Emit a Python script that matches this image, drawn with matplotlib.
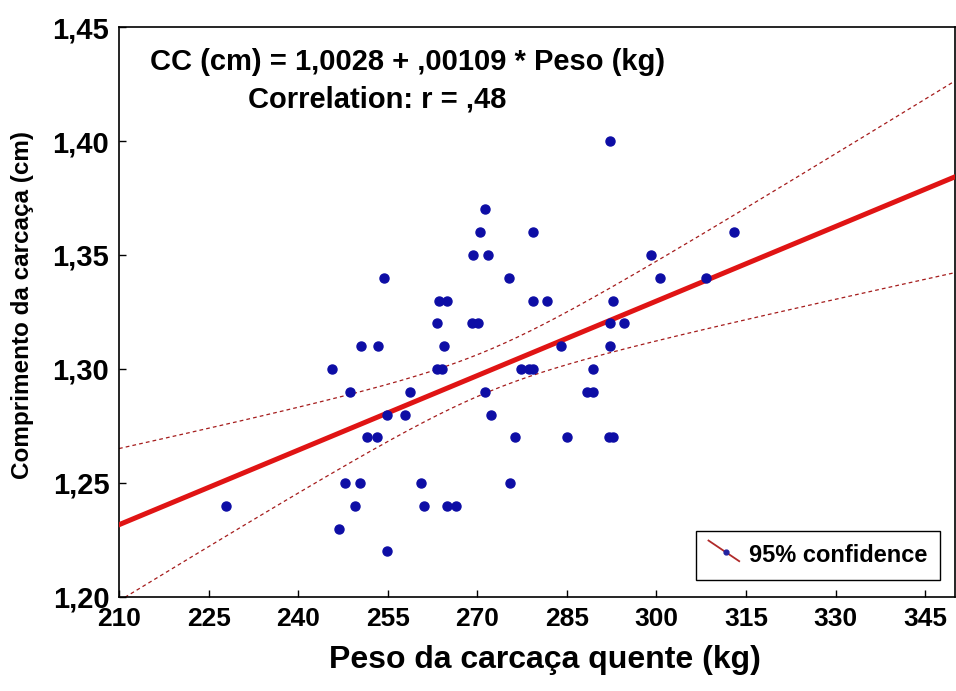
import numpy as np
import matplotlib
matplotlib.use("Agg")
import matplotlib.pyplot as plt
from matplotlib.lines import Line2D
from matplotlib.legend_handler import HandlerBase

# carcass weight (kg) and carcass length
peso = [228.0, 245.7, 246.9, 247.9, 248.7, 249.6, 250.4, 250.6, 251.6, 253.2,
        253.4, 254.4, 254.9, 254.9, 257.9, 258.7, 260.6, 261.1, 263.3, 263.3,
        263.6, 264.1, 264.4, 264.9, 264.9, 266.4, 269.1, 269.3, 270.1, 270.4,
        271.3, 271.3, 271.8, 272.3, 275.3, 275.4, 276.3, 277.4, 278.6, 279.4,
        279.3, 279.3, 281.6, 284.0, 285.0, 288.3, 289.3, 289.3, 292.3, 292.8,
        292.3, 292.3, 292.0, 292.8, 294.6, 299.1, 300.6, 308.3, 313.0]
comprimento = [1.24, 1.30, 1.23, 1.25, 1.29, 1.24, 1.25, 1.31, 1.27, 1.27,
               1.31, 1.34, 1.28, 1.22, 1.28, 1.29, 1.25, 1.24, 1.32, 1.30,
               1.33, 1.30, 1.31, 1.33, 1.24, 1.24, 1.32, 1.35, 1.32, 1.36,
               1.37, 1.29, 1.35, 1.28, 1.34, 1.25, 1.27, 1.30, 1.30, 1.30,
               1.36, 1.33, 1.33, 1.31, 1.27, 1.29, 1.29, 1.30, 1.40, 1.33,
               1.32, 1.31, 1.27, 1.27, 1.32, 1.35, 1.34, 1.34, 1.36]

# fitted equation as printed on the chart
b0, b1 = 1.0028, 0.00109
t_crit = 2.002  # t(0.975, n-2) for n = 59

x_ticks = [210, 225, 240, 255, 270, 285, 300, 315, 330, 345]
y_ticks = [1.20, 1.25, 1.30, 1.35, 1.40, 1.45]
y_tick_labels = ["1,20", "1,25", "1,30", "1,35", "1,40", "1,45"]


class DiagHandler(HandlerBase):
    # Statistica-style legend key: slanted line with a dot
    def create_artists(self, legend, orig_handle, xdescent, ydescent,
                       width, height, fontsize, trans):
        x0, x1 = -xdescent, -xdescent + width
        y0, y1 = -ydescent + 0.05 * height, -ydescent + 1.3 * height
        line = Line2D([x0, x1], [y1, y0], color="#b02a2a", lw=1.3, transform=trans)
        f = 0.57
        dot = Line2D([x0 + f * width], [y1 - f * (y1 - y0)], marker="o",
                     ms=3.5, color="#2323a0", lw=0, transform=trans)
        return [line, dot]


def main():
    plt.rcParams["font.family"] = ["Liberation Sans", "DejaVu Sans"]
    plt.rcParams["font.weight"] = "bold"

    x = np.array(peso)
    y = np.array(comprimento)
    n = len(x)
    resid = y - (b0 + b1 * x)
    s = np.sqrt((resid ** 2).sum() / (n - 2))
    sxx = ((x - x.mean()) ** 2).sum()

    xs = np.linspace(210, 350, 200)
    fit = b0 + b1 * xs
    half = t_crit * s * np.sqrt(1 / n + (xs - x.mean()) ** 2 / sxx)

    fig = plt.figure(figsize=(9.56, 6.91), dpi=100)
    ax = fig.add_axes([119 / 956, 94 / 691, 836 / 956, 570 / 691])

    ax.plot(xs, fit + half, color="#a51c1c", lw=0.9, dashes=(3, 2.5), zorder=2)
    ax.plot(xs, fit - half, color="#a51c1c", lw=0.9, dashes=(3, 2.5), zorder=2)
    ax.plot(xs, fit, color="#e01414", lw=3.6, zorder=3)
    ax.plot(x, y, "o", color="#0d0da5", ms=6.5, zorder=4)

    ax.set_xlim(210, 350)
    ax.set_ylim(1.20, 1.45)
    ax.set_xticks(x_ticks)
    ax.set_xticklabels([str(v) for v in x_ticks])
    ax.set_yticks(y_ticks)
    ax.set_yticklabels(y_tick_labels)
    ax.tick_params(direction="in", length=5, width=1, pad=7)
    ax.tick_params(axis="x", labelsize=19)
    ax.tick_params(axis="y", labelsize=21)
    for sp in ax.spines.values():
        sp.set_linewidth(1.2)

    ax.set_xlabel("Peso da carcaça quente (kg)", fontsize=23, fontweight="bold")
    ax.xaxis.set_label_coords(0.51, -0.084)
    ax.set_ylabel("Comprimento da carcaça (cm)", fontsize=17.5, fontweight="bold")
    ax.yaxis.set_label_coords(-0.102, 0.512)

    ax.text(150 / 956, 1 - 62 / 691, "CC (cm) = 1,0028 + ,00109 * Peso (kg)",
            transform=fig.transFigure, fontsize=21, fontweight="bold",
            ha="left", va="center")
    ax.text(248 / 956, 1 - 100 / 691, "Correlation: r = ,48",
            transform=fig.transFigure, fontsize=21, fontweight="bold",
            ha="left", va="center")

    leg = ax.legend([Line2D([], [])], ["95% confidence"], handler_map={Line2D: DiagHandler()},
                    loc="lower right", bbox_to_anchor=(1 - 15 / 836, 17 / 570),
                    borderaxespad=0, fancybox=False, framealpha=1, edgecolor="black",
                    prop={"size": 17, "weight": "bold"}, handlelength=1.3,
                    handletextpad=0.4, borderpad=0.55)
    leg.get_frame().set_linewidth(1.0)

    fig.savefig("out.png", dpi=100)
    plt.close(fig)


if __name__ == "__main__":
    main()
